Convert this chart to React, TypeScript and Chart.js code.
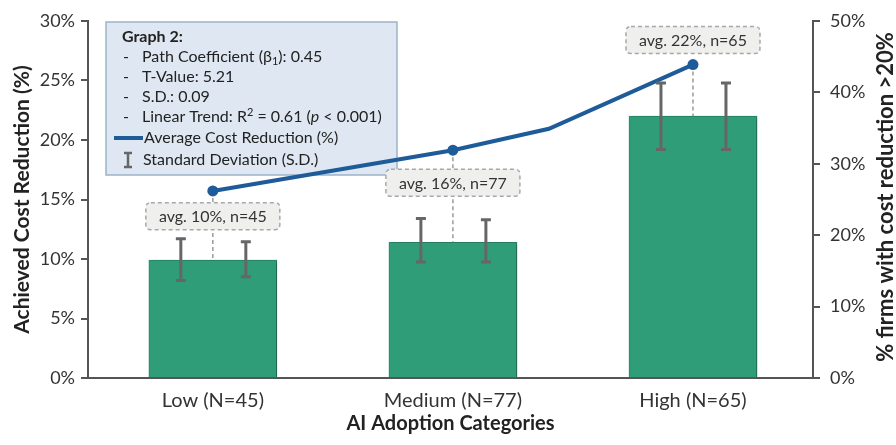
import { useEffect, useRef } from "react";
import { Chart, registerables } from "chart.js";

Chart.register(...registerables);

const categories = ["Low (N=45)", "Medium (N=77)", "High (N=65)"];
const costReduction = [9.9, 11.4, 22.0];
const sdLeft = [[8.2, 11.7], [9.75, 13.4], [19.2, 24.8]];
const sdRight = [[8.5, 11.45], [9.75, 13.3], [19.2, 24.8]];
const lineX = [0, 1, 1.4, 2];
const firmsAbove20 = [26.2, 31.9, 34.9, 43.9];
const lineMarkerIndex = [0, 1, 3];
const avgLabels = ["avg. 10%, n=45", "avg. 16%, n=77", "avg. 22%, n=65"];
const avgLabelY = [13.6, 16.4, 28.4];
const leftTickValues = [0, 5, 10, 15, 20, 25, 30];
const rightTickValues = [0, 10, 20, 30, 40, 50];
const rightAxisTitle = "% firms with cost reduction >20%";

const FONT = "Lato, 'Open Sans', sans-serif";
const BAR_COLOR = "#2f9d78";
const LINE_COLOR = "#1d5c99";
const AXIS_COLOR = "#555555";
const TEXT_COLOR = "#333333";

function roundRect(ctx: CanvasRenderingContext2D, x: number, y: number, w: number, h: number, r: number) {
  ctx.beginPath();
  ctx.moveTo(x + r, y);
  ctx.lineTo(x + w - r, y);
  ctx.quadraticCurveTo(x + w, y, x + w, y + r);
  ctx.lineTo(x + w, y + h - r);
  ctx.quadraticCurveTo(x + w, y + h, x + w - r, y + h);
  ctx.lineTo(x + r, y + h);
  ctx.quadraticCurveTo(x, y + h, x, y + h - r);
  ctx.lineTo(x, y + r);
  ctx.quadraticCurveTo(x, y, x + r, y);
  ctx.closePath();
}

const decorPlugin = {
  id: "decor",
  beforeDatasetsDraw(chart: any) {
    const { ctx, scales } = chart;
    const x = scales.x, yL = scales.y, yR = scales.y2;
    // info / legend box
    ctx.save();
    const bx = 106, by = 22, bw = 291, bh = 153;
    ctx.fillStyle = "#dfe8f2";
    ctx.strokeStyle = "#9db3c8";
    ctx.lineWidth = 1.5;
    ctx.fillRect(bx, by, bw, bh);
    ctx.strokeRect(bx, by, bw, bh);
    ctx.fillStyle = "#222";
    ctx.textBaseline = "middle";
    ctx.textAlign = "left";
    const f = (w: string, s: number, st = "normal") => `${st} ${w} ${s}px ${FONT}`;
    const FS = 16;
    ctx.font = f("bold", FS);
    ctx.fillText("Graph 2:", 122, 37);
    ctx.font = f("normal", FS);
    [57, 77, 97, 117].forEach((yy) => ctx.fillText("-", 123, yy));
    let cx = 142;
    const draw = (t: string, yy: number, font: string, dy = 0) => {
      ctx.font = font;
      ctx.fillText(t, cx, yy + dy);
      cx += ctx.measureText(t).width;
    };
    draw("Path Coefficient (β", 57, f("normal", FS));
    draw("1", 57, f("normal", 11), 4);
    draw("): 0.45", 57, f("normal", FS));
    cx = 142;
    draw("T-Value: 5.21", 77, f("normal", FS));
    cx = 142;
    draw("S.D.: 0.09", 97, f("normal", FS));
    cx = 142;
    draw("Linear Trend: R", 117, f("normal", FS));
    draw("2", 117, f("normal", 11), -5);
    draw(" = 0.61 (", 117, f("normal", FS));
    draw("p", 117, f("normal", FS, "italic"));
    draw(" < 0.001)", 117, f("normal", FS));
    ctx.strokeStyle = LINE_COLOR;
    ctx.lineWidth = 4;
    ctx.beginPath();
    ctx.moveTo(114, 138);
    ctx.lineTo(143, 138);
    ctx.stroke();
    cx = 144;
    draw("Average Cost Reduction (%)", 138, f("normal", FS));
    ctx.strokeStyle = "#666";
    ctx.lineWidth = 2.5;
    ctx.beginPath();
    ctx.moveTo(128, 153); ctx.lineTo(128, 167);
    ctx.moveTo(124, 153); ctx.lineTo(132, 153);
    ctx.moveTo(124, 167); ctx.lineTo(132, 167);
    ctx.stroke();
    cx = 143;
    draw("Standard Deviation (S.D.)", 160, f("normal", FS));
    ctx.restore();

    // dashed connectors from marker to bar top
    ctx.save();
    ctx.strokeStyle = "#9a9a9a";
    ctx.lineWidth = 1.5;
    ctx.setLineDash([4, 3]);
    categories.forEach((_, i) => {
      const px = x.getPixelForValue(i);
      const my = yR.getPixelForValue(firmsAbove20[lineMarkerIndex[i]]);
      const topY = yL.getPixelForValue(costReduction[i]);
      ctx.beginPath();
      ctx.moveTo(px, my);
      ctx.lineTo(px, topY);
      ctx.stroke();
    });
    ctx.restore();
  },
  beforeDatasetDraw(chart: any, args: any) {
    if (args.index === 0) {
      const ctx = chart.ctx;
      ctx.save();
      ctx.shadowColor = "rgba(0,0,0,0.35)";
      ctx.shadowOffsetX = 3;
      ctx.shadowOffsetY = 1;
      ctx.shadowBlur = 4;
    }
  },
  afterDatasetDraw(chart: any, args: any) {
    if (args.index === 0) chart.ctx.restore();
  },
  afterDatasetsDraw(chart: any) {
    const { ctx, scales } = chart;
    const x = scales.x, yL = scales.y;
    ctx.save();
    ctx.strokeStyle = "#666666";
    ctx.lineWidth = 3;
    const errOffset = 32;
    const cap = 5;
    categories.forEach((_, i) => {
      const px = x.getPixelForValue(i);
      [[-errOffset, sdLeft[i]], [errOffset + 1, sdRight[i]]].forEach(([off, rng]: any) => {
        const ex = px + off;
        const y1 = yL.getPixelForValue(rng[0]);
        const y2 = yL.getPixelForValue(rng[1]);
        ctx.beginPath();
        ctx.moveTo(ex, y1); ctx.lineTo(ex, y2);
        ctx.moveTo(ex - cap, y1); ctx.lineTo(ex + cap, y1);
        ctx.moveTo(ex - cap, y2); ctx.lineTo(ex + cap, y2);
        ctx.stroke();
      });
    });
    ctx.restore();
    ctx.save();
    categories.forEach((_, i) => {
      const px = x.getPixelForValue(i);
      const py = yL.getPixelForValue(avgLabelY[i]);
      const w = 134, h = 27;
      roundRect(ctx, px - w / 2, py - h / 2, w, h, 5);
      ctx.fillStyle = "#efefee";
      ctx.fill();
      ctx.setLineDash([4, 3]);
      ctx.strokeStyle = "#a8a8a8";
      ctx.lineWidth = 1.5;
      ctx.stroke();
      ctx.setLineDash([]);
      ctx.fillStyle = TEXT_COLOR;
      ctx.font = `normal 16px ${FONT}`;
      ctx.textAlign = "center";
      ctx.textBaseline = "middle";
      ctx.fillText(avgLabels[i], px, py + 1);
    });
    ctx.restore();
    // right axis title, reading bottom-to-top
    ctx.save();
    ctx.translate(886, 197);
    ctx.rotate(-Math.PI / 2);
    ctx.fillStyle = "#222";
    ctx.font = `bold 22px ${FONT}`;
    ctx.textAlign = "center";
    ctx.textBaseline = "middle";
    ctx.fillText(rightAxisTitle, 0, 0);
    ctx.restore();
  },
};

export default function App() {
  const ref = useRef<HTMLCanvasElement | null>(null);
  useEffect(() => {
    document.body.style.margin = "0";
    if (!ref.current) return;
    const chart = new Chart(ref.current, {
      type: "bar",
      data: {
        datasets: [
          {
            type: "bar",
            label: "Achieved Cost Reduction",
            data: costReduction.map((v, i) => ({ x: i, y: v })),
            backgroundColor: BAR_COLOR,
            borderColor: "#27896a",
            borderWidth: 1,
            barThickness: 128,
            xAxisID: "x",
            yAxisID: "y",
            order: 2,
          } as any,
          {
            type: "line",
            label: "Average Cost Reduction (%)",
            data: lineX.map((v, i) => ({ x: v, y: firmsAbove20[i] })),
            borderColor: LINE_COLOR,
            backgroundColor: LINE_COLOR,
            borderWidth: 4,
            pointRadius: lineX.map((v) => (Number.isInteger(v) ? 5.5 : 0)),
            pointBackgroundColor: LINE_COLOR,
            pointBorderWidth: 0,
            tension: 0,
            xAxisID: "x",
            yAxisID: "y2",
            order: 1,
          } as any,
        ],
      },
      options: {
        responsive: false,
        animation: false,
        layout: { padding: { top: 21, left: 0, right: 0, bottom: 0 } },
        plugins: { legend: { display: false }, tooltip: { enabled: false } },
        scales: {
          x: {
            type: "linear",
            position: "bottom",
            offset: false,
            min: -0.52,
            max: 2.5,
            afterBuildTicks: (s: any) => {
              s.ticks = categories.map((_, i) => ({ value: i }));
            },
            afterFit: (s: any) => {
              s.height = 67;
            },
            ticks: {
              callback: (v: any) => categories[v as number],
              color: TEXT_COLOR,
              font: { family: FONT, size: 20 },
              padding: 11,
              autoSkip: false,
              maxRotation: 0,
            },
            grid: { display: false, drawTicks: false },
            border: { display: true, color: AXIS_COLOR, width: 2 },
            title: {
              display: true,
              text: "AI Adoption Categories",
              color: "#222",
              font: { family: FONT, size: 20, weight: "bold", lineHeight: 1 },
              padding: { top: 0, bottom: 11 },
            },
          },
          y: {
            type: "linear",
            position: "left",
            min: 0,
            max: 30,
            afterBuildTicks: (s: any) => {
              s.ticks = leftTickValues.map((v) => ({ value: v }));
            },
            afterFit: (s: any) => {
              s.width = 88;
            },
            ticks: {
              callback: (v: any) => v + "%",
              color: TEXT_COLOR,
              font: { family: FONT, size: 18 },
              padding: 6,
            },
            grid: { display: true, drawOnChartArea: false, drawTicks: true, tickLength: 7, color: AXIS_COLOR, lineWidth: 2 },
            border: { display: true, color: AXIS_COLOR, width: 2 },
            title: {
              display: true,
              text: "Achieved Cost Reduction (%)",
              color: "#222",
              font: { family: FONT, size: 21, weight: "bold", lineHeight: 1 },
              padding: { top: 12, bottom: 0 },
            },
          },
          y2: {
            type: "linear",
            position: "right",
            min: 0,
            max: 50,
            afterBuildTicks: (s: any) => {
              s.ticks = rightTickValues.map((v) => ({ value: v }));
            },
            afterFit: (s: any) => {
              s.width = 83;
            },
            ticks: {
              callback: (v: any) => v + "%",
              color: TEXT_COLOR,
              font: { family: FONT, size: 18 },
              padding: 10,
            },
            grid: { display: true, drawOnChartArea: false, drawTicks: true, tickLength: 7, color: AXIS_COLOR, lineWidth: 2 },
            border: { display: true, color: AXIS_COLOR, width: 2 },
            title: { display: false },
          },
        },
      },
      plugins: [decorPlugin],
    });
    return () => chart.destroy();
  }, []);
  return (
    <div style={{ position: "absolute", left: 0, top: 0, width: 896, height: 445, background: "#fff" }}>
      <canvas ref={ref} width={896} height={445} style={{ display: "block" }} />
    </div>
  );
}
